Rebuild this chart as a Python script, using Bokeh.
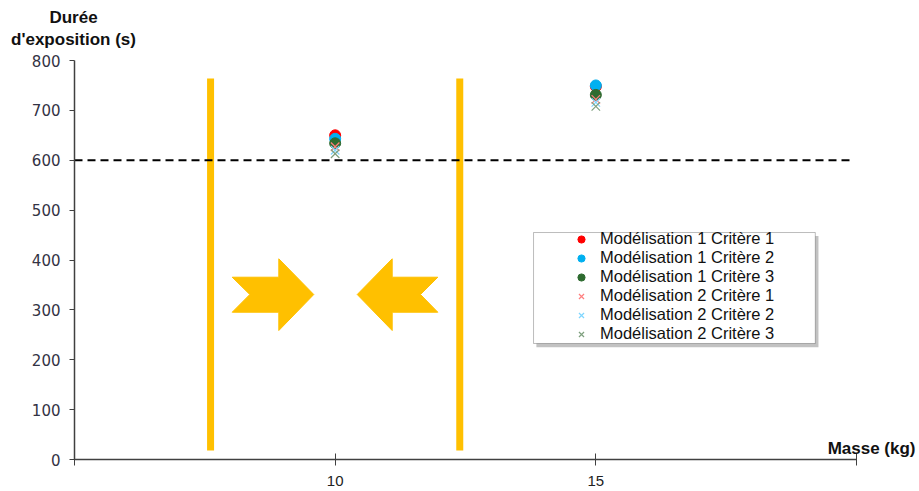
from bokeh.plotting import figure
from bokeh.models import (Range1d, FixedTicker, Label, Legend, LegendItem, BoxAnnotation)
from bokeh.embed import file_html
from bokeh.resources import INLINE

# ---- data ----
masse = [10, 15]
m1_c1 = [650, 748]
m1_c2 = [643, 750]
m1_c3 = [634, 731]
m2_c1 = [627, 722]
m2_c2 = [620, 716]
m2_c3 = [613, 708]

series_labels = ["Modélisation 1 Critère 1", "Modélisation 1 Critère 2", "Modélisation 1 Critère 3",
                 "Modélisation 2 Critère 1", "Modélisation 2 Critère 2", "Modélisation 2 Critère 3"]

x_ticks = [5, 10, 15, 20]
y_ticks = [0, 100, 200, 300, 400, 500, 600, 700, 800]
threshold = 600
threshold_x = [5, 19.9]

# vertical orange bounds
bound_x = [7.61, 12.39]
bound_y0 = [18, 18]
bound_y1 = [764, 764]

# arrow shapes (data units)
arrow_right_x = [8.025, 8.919, 8.919, 9.590, 8.919, 8.919, 8.025, 8.363]
arrow_right_y = [365.5, 365.5, 402.4, 330.8, 258.6, 295.3, 295.3, 330.8]
arrow_left_x = [11.969, 11.094, 11.094, 10.423, 11.094, 11.094, 11.969, 11.637]
arrow_left_y = [365.5, 365.5, 402.4, 330.8, 258.6, 295.3, 295.3, 330.8]

ORANGE = "#FFC000"

W, H = 919, 491
PX_X = (856 - 74) / 15.0     # pixels per kg
PX_Y = (459 - 60) / 800.0    # pixels per second

p = figure(width=W, height=H, output_backend="svg", toolbar_location=None,
           x_range=Range1d(5 - 74 / PX_X, 20 + (W - 856) / PX_X),
           y_range=Range1d(-(H - 459) / PX_Y, 800 + 60 / PX_Y),
           min_border_left=0, min_border_right=0, min_border_top=0, min_border_bottom=0)
p.outline_line_color = None
p.xgrid.visible = False
p.ygrid.visible = False
p.background_fill_color = "white"
p.border_fill_color = "white"

# axes (drawn inside the frame at fixed positions)
p.xaxis.fixed_location = 0
p.yaxis.fixed_location = 5
p.xaxis.bounds = (5, 20)
p.xaxis.ticker = FixedTicker(ticks=x_ticks)
p.xaxis.major_label_overrides = {5: "", 20: ""}
p.xaxis.minor_tick_line_color = None
p.xaxis.major_tick_in = 6
p.xaxis.major_tick_out = 6
p.xaxis.major_label_standoff = 10
p.xaxis.axis_line_color = "#404040"
p.xaxis.major_tick_line_color = "#404040"
p.xaxis.axis_line_width = 1.5
p.xaxis.major_label_text_font = "Liberation Sans"
p.xaxis.major_label_text_font_size = "15px"
p.xaxis.major_label_text_color = "#222222"

p.yaxis.bounds = (0, 800)
p.yaxis.ticker = FixedTicker(ticks=y_ticks)
p.yaxis.minor_tick_line_color = None
p.yaxis.major_tick_in = 0
p.yaxis.major_tick_out = 5
p.yaxis.major_label_standoff = 9
p.yaxis.axis_line_color = "#404040"
p.yaxis.major_tick_line_color = "#404040"
p.yaxis.axis_line_width = 1.5
p.yaxis.major_label_text_font = "DejaVu Sans"
p.yaxis.major_label_text_font_size = "15px"
p.yaxis.major_label_text_color = "#333344"

# orange bounds
p.segment(x0=bound_x, y0=bound_y0, x1=bound_x, y1=bound_y1, line_color=ORANGE, line_width=7)

# arrows
p.patches(xs=[arrow_right_x, arrow_left_x], ys=[arrow_right_y, arrow_left_y],
          fill_color=ORANGE, line_color=ORANGE, line_width=1)

# threshold
p.line(threshold_x, [threshold] * len(threshold_x), line_color="black",
       line_width=2.2, line_dash="8 5")

# points
r1 = p.scatter(masse, m1_c1, marker="circle", size=11, fill_color="#FF0000", line_color="#FF0000")
r2 = p.scatter(masse, m1_c2, marker="circle", size=11, fill_color="#00B0F0", line_color="#00B0F0")
r3 = p.scatter(masse, m1_c3, marker="circle", size=11, fill_color="#2E6B30", line_color="#2E6B30")
r4 = p.scatter(masse, m2_c1, marker="x", size=12, line_color="#FF7F7F", line_width=1.2)
r5 = p.scatter(masse, m2_c2, marker="x", size=12, line_color="#7FD6FF", line_width=1.2)
r6 = p.scatter(masse, m2_c3, marker="x", size=12, line_color="#7FA07F", line_width=1.2)

# legend frame + shadow
p.add_layout(BoxAnnotation(left=13.86, right=19.27, top=448.0, bottom=225.0,
                           fill_color="#999999", fill_alpha=0.6, line_color=None, level="underlay"))
p.add_layout(BoxAnnotation(left=13.805, right=19.21, top=455.1, bottom=232.6,
                           fill_color="white", fill_alpha=1.0, line_color="#222222",
                           line_width=1, level="underlay"))

legend = Legend(items=[LegendItem(label=lab, renderers=[r]) for lab, r in
                       zip(series_labels, [r1, r2, r3, r4, r5, r6])],
                location=(571, 148), margin=0, padding=3, spacing=0,
                glyph_width=20, glyph_height=18, label_height=18, label_standoff=9,
                label_text_font="Liberation Sans", label_text_font_size="16.5px",
                label_text_color="#111111",
                background_fill_alpha=0, border_line_color=None)
p.add_layout(legend)

# axis titles
p.add_layout(Label(x=5, y=800, x_offset=-1, y_offset=43, text="Durée", text_align="center",
                   text_baseline="middle", text_font="Liberation Sans", text_font_style="bold",
                   text_font_size="17px", text_color="#111111"))
p.add_layout(Label(x=5, y=800, x_offset=-1, y_offset=21, text="d'exposition (s)", text_align="center",
                   text_baseline="middle", text_font="Liberation Sans", text_font_style="bold",
                   text_font_size="17px", text_color="#111111"))
p.add_layout(Label(x=20, y=0, x_offset=59, y_offset=11, text="Masse (kg)", text_align="right",
                   text_baseline="middle", text_font="Liberation Sans", text_font_style="bold",
                   text_font_size="17px", text_color="#111111"))

open("out.html", "w").write(file_html(p, INLINE))
